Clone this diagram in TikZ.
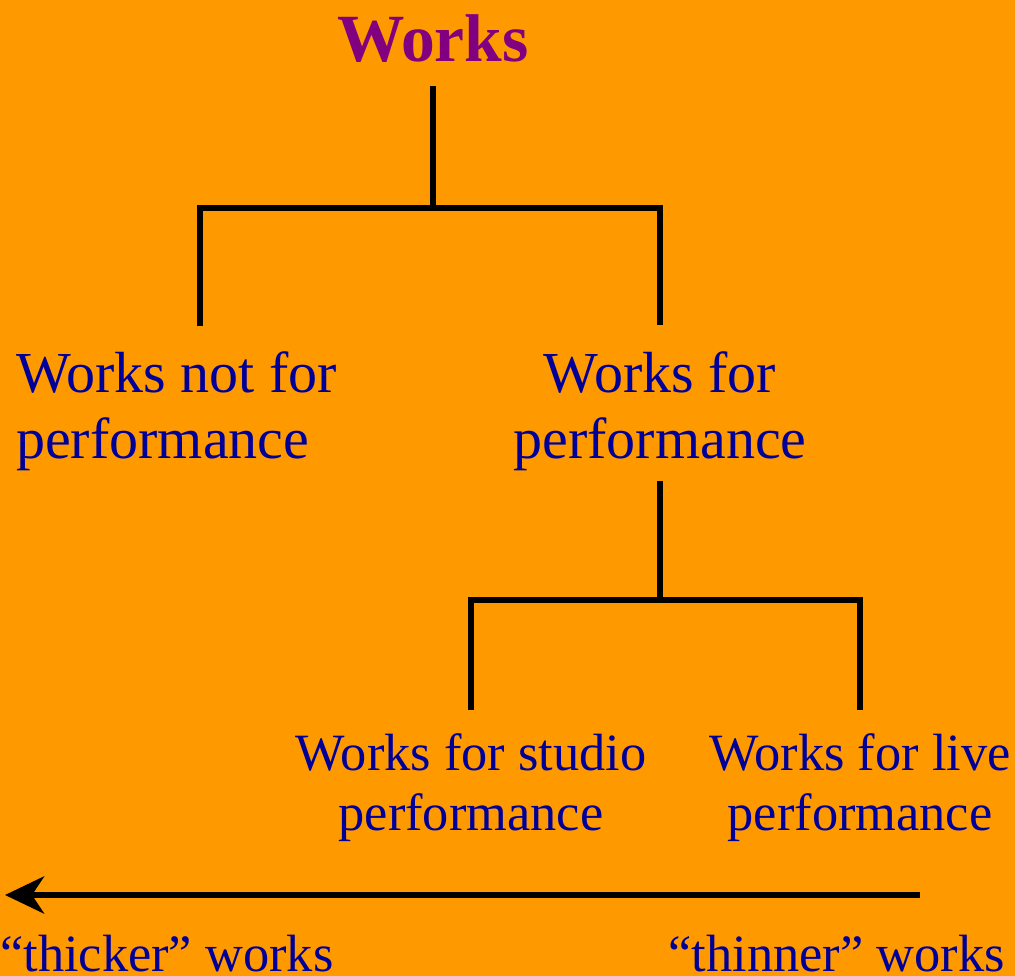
\documentclass[tikz,border=0pt]{standalone}
\usepackage{fontspec}
\setmainfont{Liberation Serif}
\usetikzlibrary{arrows.meta, positioning}
\definecolor{bgorange}{HTML}{FF9900}
\definecolor{rootpurple}{HTML}{800080}
\definecolor{labelblue}{HTML}{000099}

\begin{document}
\begin{tikzpicture}[x=1pt, y=-1pt,
    root/.style={text=rootpurple, inner sep=0pt, font=\fontsize{67.5}{75}\selectfont\bfseries},
    cat/.style={text=labelblue, inner sep=0pt, align=center, font=\fontsize{58}{66}\selectfont},
    sub/.style={text=labelblue, inner sep=0pt, align=center, font=\fontsize{52.4}{60}\selectfont},
    foot/.style={text=labelblue, inner sep=0pt, font=\fontsize{52.4}{60}\selectfont},
    branch/.style={line width=6.5pt, line join=miter}
]
    \fill[bgorange] (0,0) rectangle (1015,976);
    \useasboundingbox (0,0) rectangle (1015,976);

    \node[root, anchor=base] (works) at (433,62) {Works};
    \node[cat, anchor=base west, align=left] (notperf) at (16,458) {Works not for\\performance};
    \node[cat, anchor=base] (perf) at (660,458) {Works for\\performance};
    \node[sub, anchor=base] (studio) at (471,830) {Works for studio\\performance};
    \node[sub, anchor=base] (live) at (860,830) {Works for live\\performance};
    \node[foot, anchor=base west] (thicker) at (0,971) {``thicker'' works};
    \node[foot, anchor=base east] (thinner) at (1005,971) {``thinner'' works};

    % tree forks
    \coordinate (fork1) at (433,208);
    \coordinate (fork2) at (660,600);
    \coordinate (legA) at (200,326);

    \draw[branch, shorten <=23pt] (works.south) -- (fork1);
    \draw[branch] (fork1) -| (legA);
    \draw[branch, shorten >=26pt] (fork1) -| (perf.north);

    \draw[branch, shorten <=10pt] (perf.south) -- (fork2);
    \draw[branch, shorten >=23pt] (fork2) -| (studio.north);
    \draw[branch, shorten >=23pt] (fork2) -| (live.north);

    % thick/thin scale
    \coordinate (scaleR) at (920,895);
    \coordinate (scaleL) at (5,895);
    \draw[line width=6.5pt, -{Stealth[length=39pt, width=37pt, inset=12pt]}] (scaleR) -- (scaleL);
\end{tikzpicture}
\end{document}
